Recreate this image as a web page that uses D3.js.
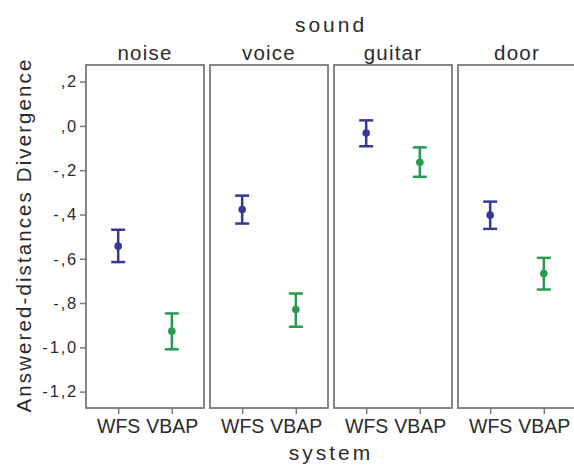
<!DOCTYPE html>
<html><head><meta charset="utf-8">
<script src="https://cdn.jsdelivr.net/npm/d3@7"></script>
<style>body{margin:0;background:#fff}svg{display:block}text{font-family:"Liberation Sans",Arial,sans-serif;fill:#2b2b2b}</style>
</head><body>
<script>
const sounds = ["noise", "voice", "guitar", "door"];
const systems = ["WFS", "VBAP"];
// mean, lower, upper per sound for each system
const wfsMean  = [-0.543, -0.378, -0.032, -0.403];
const wfsLow   = [-0.615, -0.441, -0.092, -0.465];
const wfsHigh  = [-0.469, -0.315,  0.025, -0.342];
const vbapMean = [-0.927, -0.829, -0.164, -0.667];
const vbapLow  = [-1.009, -0.907, -0.230, -0.739];
const vbapHigh = [-0.847, -0.757, -0.097, -0.596];
const yTicks = [0.2, 0, -0.2, -0.4, -0.6, -0.8, -1.0, -1.2];
const yTickLabels = [",2", ",0", "-,2", "-,4", "-,6", "-,8", "-1,0", "-1,2"];
const colors = {WFS: "#36399a", VBAP: "#2a9a4f"};

const W = 574, H = 466;
const svg = d3.select("body").append("svg").attr("width", W).attr("height", H);

const panelLeft = 86, panelW = 118, gap = 6, plotTop = 65, plotBottom = 408;
const fx = d3.scaleBand().domain(sounds).range([panelLeft, panelLeft + 4*panelW + 3*gap]).paddingInner(gap/(panelW+gap)).paddingOuter(0);
const y = d3.scaleLinear().domain([-1.274, 0.275]).range([plotBottom, plotTop]);
const x = d3.scalePoint().domain(systems).range([0, fx.bandwidth()]).padding(0.6);

const rows = [];
sounds.forEach((s, i) => {
  rows.push({sound: s, system: "WFS", m: wfsMean[i], lo: wfsLow[i], hi: wfsHigh[i]});
  rows.push({sound: s, system: "VBAP", m: vbapMean[i], lo: vbapLow[i], hi: vbapHigh[i]});
});

// titles
svg.append("text").attr("x", 331).attr("y", 32).attr("text-anchor", "middle")
  .style("font-size", "21px").style("letter-spacing", "3px").text("sound");
svg.append("text").attr("x", 331).attr("y", 460).attr("text-anchor", "middle")
  .style("font-size", "21px").style("letter-spacing", "3px").text("system");
svg.append("text").attr("transform", "translate(31,235) rotate(-90)").attr("text-anchor", "middle")
  .style("font-size", "20.5px").style("letter-spacing", "2.1px").text("Answered-distances Divergence");

sounds.forEach(s => {
  const g = svg.append("g").attr("transform", `translate(${fx(s)},0)`);
  g.append("text").attr("x", fx.bandwidth()/2).attr("y", 60).attr("text-anchor", "middle")
    .style("font-size", "20.5px").style("letter-spacing", "1.2px").text(s);
  g.append("rect").attr("x", 0).attr("y", plotTop).attr("width", fx.bandwidth()).attr("height", plotBottom - plotTop)
    .attr("fill", "#fff").attr("stroke", "#7a7a7a").attr("stroke-width", 1.8);
  // x ticks
  const xa = g.append("g").attr("transform", `translate(0,${plotBottom})`)
    .call(d3.axisBottom(x).tickSize(6).tickPadding(5));
  xa.select(".domain").remove();
  xa.selectAll("line").attr("stroke", "#7a7a7a").attr("stroke-width", 1.5);
  xa.selectAll("text").style("font-size", "19.5px").attr("fill", "#2b2b2b").style("font-family", '"Liberation Sans",Arial,sans-serif');
  // error bars
  const d = rows.filter(r => r.sound === s);
  const eb = g.selectAll(".eb").data(d).enter().append("g")
    .attr("stroke", r => colors[r.system]).attr("fill", r => colors[r.system]);
  eb.append("line").attr("x1", r => x(r.system)).attr("x2", r => x(r.system))
    .attr("y1", r => y(r.lo)).attr("y2", r => y(r.hi)).attr("stroke-width", 2.5);
  eb.append("line").attr("x1", r => x(r.system) - 7).attr("x2", r => x(r.system) + 7)
    .attr("y1", r => y(r.hi)).attr("y2", r => y(r.hi)).attr("stroke-width", 2.5);
  eb.append("line").attr("x1", r => x(r.system) - 7).attr("x2", r => x(r.system) + 7)
    .attr("y1", r => y(r.lo)).attr("y2", r => y(r.lo)).attr("stroke-width", 2.5);
  eb.append("circle").attr("cx", r => x(r.system)).attr("cy", r => y(r.m)).attr("r", 3.8).attr("stroke", "none");
});

// y axis on first panel
const ya = svg.append("g").attr("transform", `translate(${panelLeft},0)`)
  .call(d3.axisLeft(y).tickValues(yTicks).tickFormat((d, i) => yTickLabels[i]).tickSize(6).tickPadding(2));
ya.select(".domain").remove();
ya.selectAll("line").attr("stroke", "#7a7a7a").attr("stroke-width", 1.5);
ya.selectAll("text").style("font-size", "16.5px").style("letter-spacing", "1.8px").attr("fill", "#2b2b2b")
  .style("font-family", '"Liberation Sans",Arial,sans-serif');
</script>
</body></html>
